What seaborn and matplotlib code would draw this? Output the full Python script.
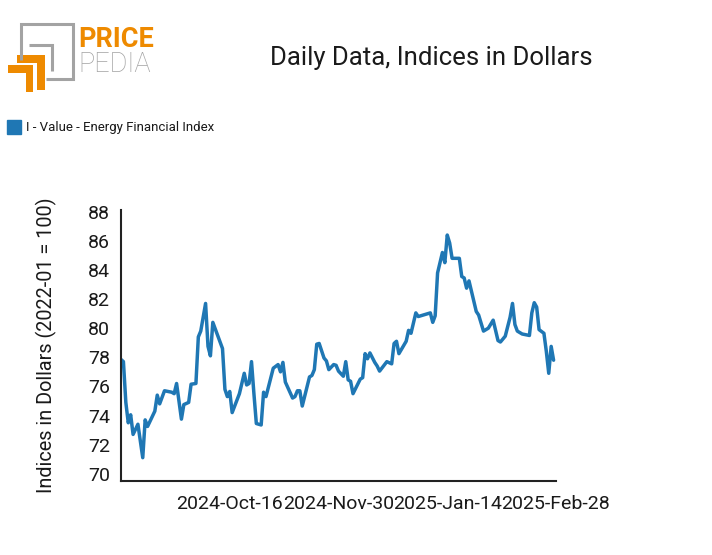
import numpy as np
import pandas as pd
import matplotlib
matplotlib.use("Agg")
import matplotlib.pyplot as plt
import matplotlib.patches as mpatches
import matplotlib.lines as mlines
import seaborn as sns

# values
dates = [
    "2024-09-01", "2024-09-02", "2024-09-03", "2024-09-04", "2024-09-05", "2024-09-06",
    "2024-09-08", "2024-09-10", "2024-09-11", "2024-09-12", "2024-09-15", "2024-09-16",
    "2024-09-17", "2024-09-19", "2024-09-22", "2024-09-23", "2024-09-24", "2024-09-26",
    "2024-09-27", "2024-09-29", "2024-09-30", "2024-10-02", "2024-10-03", "2024-10-04",
    "2024-10-06", "2024-10-07", "2024-10-08", "2024-10-09", "2024-10-13", "2024-10-14",
    "2024-10-15", "2024-10-16", "2024-10-17", "2024-10-20", "2024-10-22", "2024-10-23",
    "2024-10-24", "2024-10-25", "2024-10-26", "2024-10-27", "2024-10-29", "2024-10-30",
    "2024-10-31", "2024-11-03", "2024-11-05", "2024-11-06", "2024-11-07", "2024-11-08",
    "2024-11-11", "2024-11-12", "2024-11-13", "2024-11-14", "2024-11-15", "2024-11-18",
    "2024-11-19", "2024-11-20", "2024-11-21", "2024-11-22", "2024-11-24", "2024-11-25",
    "2024-11-26", "2024-11-28", "2024-11-29", "2024-11-30", "2024-12-02", "2024-12-03",
    "2024-12-04", "2024-12-05", "2024-12-06", "2024-12-09", "2024-12-10", "2024-12-11",
    "2024-12-12", "2024-12-13", "2024-12-15", "2024-12-16", "2024-12-17", "2024-12-20",
    "2024-12-22", "2024-12-23", "2024-12-24", "2024-12-25", "2024-12-28", "2024-12-29",
    "2024-12-30", "2025-01-01", "2025-01-02", "2025-01-06", "2025-01-07", "2025-01-08",
    "2025-01-09", "2025-01-10", "2025-01-12", "2025-01-13", "2025-01-14", "2025-01-15",
    "2025-01-16", "2025-01-19", "2025-01-20", "2025-01-21", "2025-01-22", "2025-01-23",
    "2025-01-26", "2025-01-27", "2025-01-29", "2025-01-31", "2025-02-02", "2025-02-04",
    "2025-02-05", "2025-02-07", "2025-02-09", "2025-02-10", "2025-02-11", "2025-02-12",
    "2025-02-14", "2025-02-17", "2025-02-18", "2025-02-19", "2025-02-20", "2025-02-21",
    "2025-02-23", "2025-02-24", "2025-02-25", "2025-02-26", "2025-02-27",
]
values = [
    77.85, 77.7, 74.9, 73.5, 74.05, 72.7,
    73.4, 71.1, 73.7, 73.25, 74.3, 75.4,
    74.8, 75.7, 75.6, 75.5, 76.2, 73.75,
    74.75, 74.9, 76.15, 76.2, 79.4, 79.8,
    81.7, 78.75, 78.1, 80.4, 78.6, 75.8,
    75.3, 75.65, 74.2, 75.5, 76.9, 76.1,
    76.2, 77.7, 75.5, 73.45, 73.35, 75.6,
    75.3, 77.25, 77.5, 77.0, 77.65, 76.3,
    75.2, 75.3, 75.7, 75.7, 74.65, 76.65,
    76.75, 77.15, 78.9, 78.95, 77.95, 77.75,
    77.15, 77.5, 77.45, 77.05, 76.7, 77.7,
    76.45, 76.35, 75.5, 76.5, 76.6, 78.25,
    77.9, 78.3, 77.65, 77.4, 77.05, 77.7,
    77.55, 78.95, 79.1, 78.25, 79.1, 79.85,
    79.65, 81.05, 80.8, 81.0, 81.05, 80.4,
    80.85, 83.8, 85.2, 84.5, 86.4, 85.85,
    84.8, 84.8, 83.55, 83.45, 82.75, 83.25,
    81.15, 80.9, 79.8, 80.0, 80.55, 79.15,
    79.05, 79.45, 80.75, 81.7, 80.25, 79.8,
    79.6, 79.5, 81.05, 81.75, 81.45, 79.9,
    79.65, 78.4, 76.9, 78.75, 77.8,
]
tick_dates = ["2024-09-01", "2024-10-16", "2024-11-30", "2025-01-14", "2025-02-28"]
tick_labels = ["", "2024-Oct-16", "2024-Nov-30", "2025-Jan-14", "2025-Feb-28"]
y_ticks = [70, 72, 74, 76, 78, 80, 82, 84, 86, 88]
series_name = "I - Value - Energy Financial Index"

line_color = "#1f77b4"
orange = "#EE8A00"
grey = "#A3A3A3"
text_color = "#1a1a1a"

df = pd.DataFrame({"date": pd.to_datetime(dates), "value": values})

sns.set_style("white")
plt.rcParams["font.family"] = ["Roboto", "DejaVu Sans"]

fig = plt.figure(figsize=(7.12, 5.55), dpi=100)
ax = fig.add_axes([121 / 712, 1 - 481 / 555, 435 / 712, 271 / 555])

sns.lineplot(data=df, x="date", y="value", ax=ax, color=line_color,
             linewidth=2.5, legend=False)

ax.set_xlim(pd.Timestamp("2024-09-01"), pd.Timestamp("2025-02-28"))
ax.set_ylim(69.5, 88.12)
ax.set_yticks(y_ticks)
ax.set_xticks(pd.to_datetime(tick_dates))
ax.set_xticklabels(tick_labels)
ax.tick_params(axis="both", direction="out", length=6, width=1.3,
               colors="#333333", labelcolor=text_color, labelsize=14, pad=2)
ax.tick_params(axis="x", pad=4)
for side in ["top", "right"]:
    ax.spines[side].set_visible(False)
for side in ["left", "bottom"]:
    ax.spines[side].set_color("#222222")
    ax.spines[side].set_linewidth(1.5)
ax.set_xlabel("")
ax.set_ylabel("Indices in Dollars (2022-01 = 100)", fontsize=14.3, color=text_color)
ax.yaxis.set_label_coords((46 - 121) / 435, 0.5)
ax.yaxis.label.set_va("center")
ax.grid(False)

# title
fig.text(431 / 712, 1 - 58 / 555, "Daily Data, Indices in Dollars", ha="center",
         va="center", fontsize=18.5, color=text_color)

# legend
fig.patches.append(mpatches.Rectangle((7 / 712, 1 - 134 / 555), 14 / 712, 14 / 555,
                                      transform=fig.transFigure, color=line_color))
fig.text(26 / 712, 1 - 127 / 555, series_name, ha="left", va="center",
         fontsize=9.5, color=text_color)


# logo
def px_rect(x0, y0, x1, y1, **kw):
    fig.patches.append(mpatches.Rectangle((x0 / 712, 1 - y1 / 555), (x1 - x0) / 712,
                                          (y1 - y0) / 555, transform=fig.transFigure,
                                          linewidth=0, **kw))


def px_line(xs, ys, **kw):
    fig.lines.append(mlines.Line2D([x / 712 for x in xs], [1 - y / 555 for y in ys],
                                   transform=fig.transFigure, solid_joinstyle="miter",
                                   solid_capstyle="butt", **kw))


px_line([21, 21, 73, 73, 46], [60, 24, 24, 78.5, 78.5], color=grey, linewidth=2.2)
px_line([29, 52, 52], [44.5, 44.5, 71], color=grey, linewidth=2.2)
px_rect(17, 55, 45, 63, color=orange)
px_rect(37, 55, 45, 90, color=orange)
px_rect(8, 65, 33, 73, color=orange)
px_rect(26, 65, 33, 92, color=orange)
fig.text(78 / 712, 1 - 39.5 / 555, "PRICE", ha="left", va="center", fontsize=19.5,
         fontweight="bold", color=orange)
fig.text(78 / 712, 1 - 65 / 555, "PEDIA", ha="left", va="center", fontsize=19.5,
         fontweight="light", color=grey)

fig.savefig("out.png", dpi=100)
